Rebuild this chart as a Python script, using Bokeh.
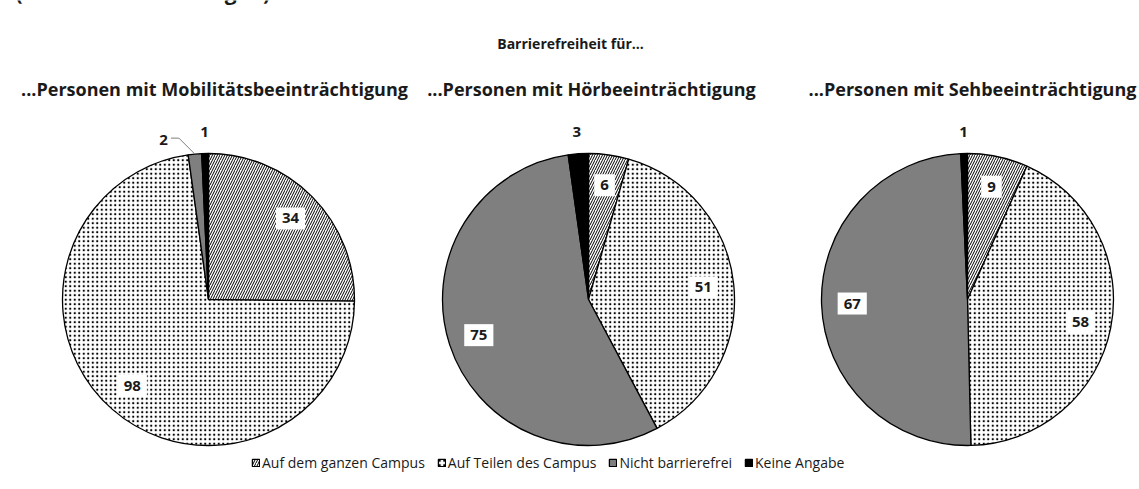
import numpy as np
from bokeh.plotting import figure
from bokeh.models import Range1d, Legend, LegendItem, ColumnDataSource
from bokeh.core.properties import value
from bokeh.embed import file_html
from bokeh.resources import INLINE

# ---- data ----
title = "Barrierefreiheit für..."
charts = ["...Personen mit Mobilitätsbeeinträchtigung",
          "...Personen mit Hörbeeinträchtigung",
          "...Personen mit Sehbeeinträchtigung"]
categories = ["Auf dem ganzen Campus", "Auf Teilen des Campus",
              "Nicht barrierefrei", "Keine Angabe"]
ganzer_campus = [34, 6, 9]
teile_campus = [98, 51, 58]
nicht_barrierefrei = [2, 75, 67]
keine_angabe = [1, 3, 1]
series = [ganzer_campus, teile_campus, nicht_barrierefrei, keine_angabe]

# ---- styles ----
W, H = 1139, 489
FONT = "Open Sans"
TXT = "#1a1a1a"
fills = ["white", "white", "#7f7f7f", "black"]
hatches = ["/", ".", "", ""]
hatch_scales = [5, 4.5, 6, 6]
hatch_weights = [1.0, 0.6, 1, 1]
centers_x = [208, 588, 967]
center_y = 190
R = 146

p = figure(width=W, height=H, output_backend="svg", toolbar_location=None,
           x_range=Range1d(0, W), y_range=Range1d(0, H), min_border=0)
p.axis.visible = False
p.grid.visible = False
p.outline_line_color = None
p.background_fill_color = "white"

vals = np.array(series, dtype=float)  # shape (4 cats, 3 charts)
totals = vals.sum(axis=0)
cum = np.vstack([np.zeros(3), np.cumsum(vals, axis=0)])
fracs_start = cum[:-1] / totals
fracs_end = cum[1:] / totals

legend_items = []
for ci, cat in enumerate(categories):
    src = ColumnDataSource(dict(
        x=centers_x, y=[center_y] * 3,
        start=(np.pi / 2 - 2 * np.pi * fracs_start[ci]).tolist(),
        end=(np.pi / 2 - 2 * np.pi * fracs_end[ci]).tolist(),
    ))
    r = p.wedge(x="x", y="y", radius=R, start_angle="start", end_angle="end",
                direction="clock", source=src, fill_color=fills[ci],
                line_color="black", line_width=1.3,
                hatch_pattern=hatches[ci] if hatches[ci] else None,
                hatch_color="black", hatch_scale=hatch_scales[ci],
                hatch_weight=hatch_weights[ci])
    legend_items.append(LegendItem(label=cat, renderers=[r]))

# ---- labels ----
for k in range(3):
    for ci in range(4):
        v = series[ci][k]
        mid = 2 * np.pi * (fracs_start[ci][k] + fracs_end[ci][k]) / 2
        ang = np.pi / 2 - mid
        if v >= 5:
            rr = 0.79 * R
            p.text(x=[centers_x[k] + rr * np.cos(ang)], y=[center_y + rr * np.sin(ang)],
                   text=[str(v)], text_font=value(FONT), text_font_style="bold",
                   text_font_size="15px", text_align="center", text_baseline="middle",
                   background_fill_color="white", padding=6, text_color=TXT)
        elif ci == 2:
            # leader line for small slice
            ex = centers_x[k] + R * np.cos(ang)
            ey = center_y + R * np.sin(ang)
            elx, ely = ex - 16, ey + 16
            p.line(x=[ex, elx, elx - 8], y=[ey, ely, ely], line_color="#7f7f7f", line_width=1)
            p.text(x=[elx - 11], y=[ely - 2], text=[str(v)], text_font=value(FONT),
                   text_font_style="bold", text_font_size="15px", text_align="right",
                   text_baseline="middle", text_color=TXT)
        else:
            rr = 1.15 * R
            p.text(x=[centers_x[k] + rr * np.cos(ang)], y=[center_y + rr * np.sin(ang)],
                   text=[str(v)], text_font=value(FONT), text_font_style="bold",
                   text_font_size="15px", text_align="center", text_baseline="middle",
                   text_color=TXT)

# ---- titles ----
p.text(x=[570], y=[446], text=[title], text_font=value(FONT), text_font_style="bold",
       text_font_size="14px", text_align="center", text_baseline="middle", text_color=TXT)
sub_x = [214, 591, 972]
p.text(x=sub_x, y=[401] * 3, text=charts, text_font=value(FONT), text_font_style="bold",
       text_font_size="18px", text_align="center", text_baseline="middle", text_color=TXT)
# partially visible header line at the very top
p.text(x=[15], y=[498], text=["(Anzahl der Nennungen)"], text_font=value(FONT),
       text_font_style="bold", text_font_size="21px", text_align="left",
       text_baseline="alphabetic", text_color=TXT)

legend = Legend(items=legend_items, orientation="horizontal", location=(251, 17),
                glyph_width=9, glyph_height=9, label_text_font=FONT,
                label_text_font_size="14px", label_standoff=2, spacing=12,
                padding=0, margin=0, border_line_color=None, background_fill_alpha=0,
                label_text_color=TXT)
p.add_layout(legend)

open("out.html", "w").write(file_html(p, INLINE))
